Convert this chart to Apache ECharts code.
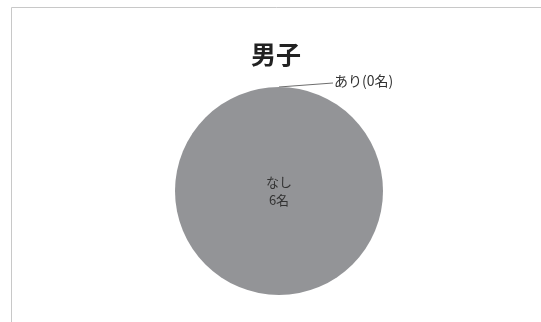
<!DOCTYPE html>
<html>
<head>
<meta charset="utf-8">
<script src="https://cdn.jsdelivr.net/npm/echarts@6/dist/echarts.min.js"></script>
<style>
  html, body { margin: 0; padding: 0; background: #fff; }
  #chart { width: 541px; height: 322px; }
</style>
</head>
<body>
<div id="chart"></div>
<script>
// 男子: 該当あり / なし の人数
const titleText = '男子';
const categories = ['あり', 'なし'];
const counts = [0, 6];

const chart = echarts.init(document.getElementById('chart'));

const pieData = categories.map((name, i) => {
  const item = { name: name, value: counts[i] };
  if (counts[i] > 0) {
    item.label = {
      position: 'center',
      formatter: p => p.name + '\n' + p.value + '名',
      fontSize: 13,
      lineHeight: 18,
      color: '#333'
    };
    item.labelLine = { show: false };
  } else {
    item.label = {
      position: 'outside',
      formatter: p => p.name + '(' + p.value + '名)',
      fontSize: 14,
      color: '#333'
    };
  }
  return item;
});

chart.setOption({
  animation: false,
  backgroundColor: '#fff',
  title: {
    text: titleText,
    left: 246,
    top: 37,
    textStyle: {
      fontFamily: 'Noto Sans CJK JP',
      fontSize: 25,
      fontWeight: 'bold',
      color: '#222'
    }
  },
  graphic: [{
    type: 'rect',
    shape: { x: 11.5, y: 7.5, width: 600, height: 400 },
    style: { fill: 'none', stroke: '#c8c8c8', lineWidth: 1 },
    silent: true
  }],
  series: [{
    type: 'pie',
    center: [279, 191],
    radius: 104,
    startAngle: 90,
    clockwise: true,
    avoidLabelOverlap: false,
    itemStyle: { color: '#939497' },
    label: {
      fontFamily: 'Noto Sans CJK JP',
      color: '#333'
    },
    labelLine: {
      length: 0,
      length2: 54,
      lineStyle: { color: '#6e6e6e', width: 1 }
    },
    // zero-value label sits up and right of the top edge, joined by a straight leader
    labelLayout: p => {
      if (p.dataIndex !== 0) return {};
      const x = 334, y = 81;
      const start = p.labelLinePoints ? p.labelLinePoints[0] : null;
      const out = { x: x, y: y, align: 'left', verticalAlign: 'middle' };
      if (start) out.labelLinePoints = [start, [x - 1, y + 2]];
      return out;
    },
    data: pieData
  }]
});
</script>
</body>
</html>
